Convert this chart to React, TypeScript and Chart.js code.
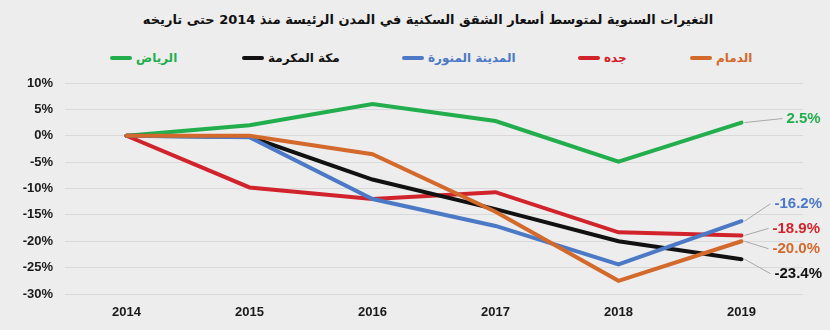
import React, { useEffect, useRef } from "react";
import { Chart, registerables } from "chart.js";

Chart.register(...registerables);

// ---- data ----
const years = ["2014", "2015", "2016", "2017", "2018", "2019"];
const riyadh = [0, 2.0, 6.0, 2.8, -4.9, 2.5];
const makkah = [0, -0.2, -8.3, -13.9, -20.0, -23.4];
const madinah = [0, -0.3, -12.0, -17.1, -24.4, -16.2];
const jeddah = [0, -9.8, -12.0, -10.7, -18.3, -18.9];
const dammam = [0, 0, -3.5, -14.4, -27.5, -20.0];

const cityNames = ["الرياض", "مكة المكرمة", "المدينة المنورة", "جده", "الدمام"];
const endLabels = ["2.5%", "-23.4%", "-16.2%", "-18.9%", "-20.0%"];
const yMin = -30;
const yMax = 10;
const yStep = 5;
const titleText = "التغيرات السنوية لمتوسط أسعار الشقق السكنية في المدن الرئيسة منذ 2014 حتى تاريخه";

// ---- styles ----
const colors = ["#22ae4c", "#111111", "#4b79c5", "#d1232b", "#d4692c"];
const legendX = [110, 242, 402, 578, 690];
// label placement (pixel offsets from the last point)
const labelDx = [45, 33, 33, 31, 31];
const labelDy = [-4, 14.5, -17.5, -7, 7.5];

const seriesList = [riyadh, makkah, madinah, jeddah, dammam];
// drawing order: first dataset is on top
const drawOrder = [4, 2, 1, 3, 0];

const endLabelPlugin = {
  id: "endLabels",
  afterDatasetsDraw(chart: any) {
    const ctx = chart.ctx;
    chart.data.datasets.forEach((ds: any, i: number) => {
      const meta = chart.getDatasetMeta(i);
      const pt = meta.data[meta.data.length - 1];
      if (!pt) return;
      const s = ds.seriesIndex;
      const tx = pt.x + labelDx[s];
      const ty = pt.y + labelDy[s];
      ctx.save();
      ctx.strokeStyle = "#a8a8a8";
      ctx.lineWidth = 1;
      ctx.beginPath();
      ctx.moveTo(pt.x + 3, pt.y);
      ctx.lineTo(tx - 4, ty);
      ctx.stroke();
      ctx.fillStyle = colors[s];
      ctx.font = "bold 15px 'Liberation Sans', Arial, sans-serif";
      ctx.textAlign = "left";
      ctx.textBaseline = "middle";
      ctx.fillText(endLabels[s], tx, ty);
      ctx.restore();
    });
  },
};

export default function App() {
  const canvasRef = useRef<HTMLCanvasElement | null>(null);

  useEffect(() => {
    if (!canvasRef.current) return;
    const datasets = drawOrder.map((s) => ({
      label: cityNames[s],
      data: seriesList[s],
      borderColor: colors[s],
      backgroundColor: colors[s],
      borderWidth: 4,
      pointRadius: 0,
      pointHoverRadius: 0,
      tension: 0,
      borderCapStyle: "round",
      borderJoinStyle: "miter",
      fill: false,
      seriesIndex: s,
    }));
    const chart = new Chart(canvasRef.current, {
      type: "line",
      data: { labels: years, datasets: datasets as any },
      options: {
        animation: false,
        responsive: true,
        maintainAspectRatio: false,
        layout: { padding: { top: 83, right: 27, bottom: 0, left: 0 } },
        plugins: {
          legend: { display: false },
          tooltip: { enabled: false },
          title: { display: false },
        },
        scales: {
          x: {
            offset: true,
            afterFit: (scale: any) => {
              scale.height = 36;
            },
            grid: { display: false, drawTicks: false },
            border: { display: false },
            ticks: {
              padding: 11,
              color: "#1a1a1a",
              font: { family: "'Liberation Sans Narrow', 'Liberation Sans', Arial, sans-serif", size: 13, weight: "bold" },
            },
          },
          y: {
            min: yMin,
            max: yMax,
            afterFit: (scale: any) => {
              scale.width = 65;
            },
            grid: { color: "#d9d9d9", lineWidth: 1, drawTicks: false },
            border: { display: false },
            ticks: {
              stepSize: yStep,
              padding: 12,
              color: "#1a1a1a",
              font: { family: "'Liberation Sans', Arial, sans-serif", size: 13, weight: "bold" },
              callback: (v: any) => `${v}%`,
            },
          },
        },
      },
      plugins: [endLabelPlugin],
    });
    return () => chart.destroy();
  }, []);

  return (
    <div
      style={{
        position: "fixed",
        left: 0,
        top: 0,
        width: 830,
        height: 330,
        background: "#ededed",
        overflow: "hidden",
      }}
    >
      <div
        dir="rtl"
        style={{
          position: "absolute",
          left: 428,
          top: 9,
          transform: "translateX(-50%)",
          whiteSpace: "nowrap",
          fontFamily: "'DejaVu Sans', 'Noto Sans', sans-serif",
          fontWeight: "bold",
          fontSize: 13,
          color: "#111",
          lineHeight: "22px",
        }}
      >
        {titleText}
      </div>
      {cityNames.map((name, s) => (
        <div
          key={name}
          style={{
            position: "absolute",
            left: legendX[s],
            top: 48,
            height: 20,
            display: "flex",
            alignItems: "center",
            whiteSpace: "nowrap",
          }}
        >
          <span
            style={{
              display: "inline-block",
              width: 22,
              height: 4,
              borderRadius: 2,
              background: colors[s],
              marginRight: 4,
            }}
          />
          <span
            dir="rtl"
            style={{
              fontFamily: "'DejaVu Sans', 'Noto Sans', sans-serif",
              fontWeight: "bold",
              fontSize: 12,
              color: colors[s],
            }}
          >
            {name}
          </span>
        </div>
      ))}
      <div style={{ position: "absolute", left: 0, top: 0, width: 830, height: 330 }}>
        <canvas ref={canvasRef} />
      </div>
    </div>
  );
}
